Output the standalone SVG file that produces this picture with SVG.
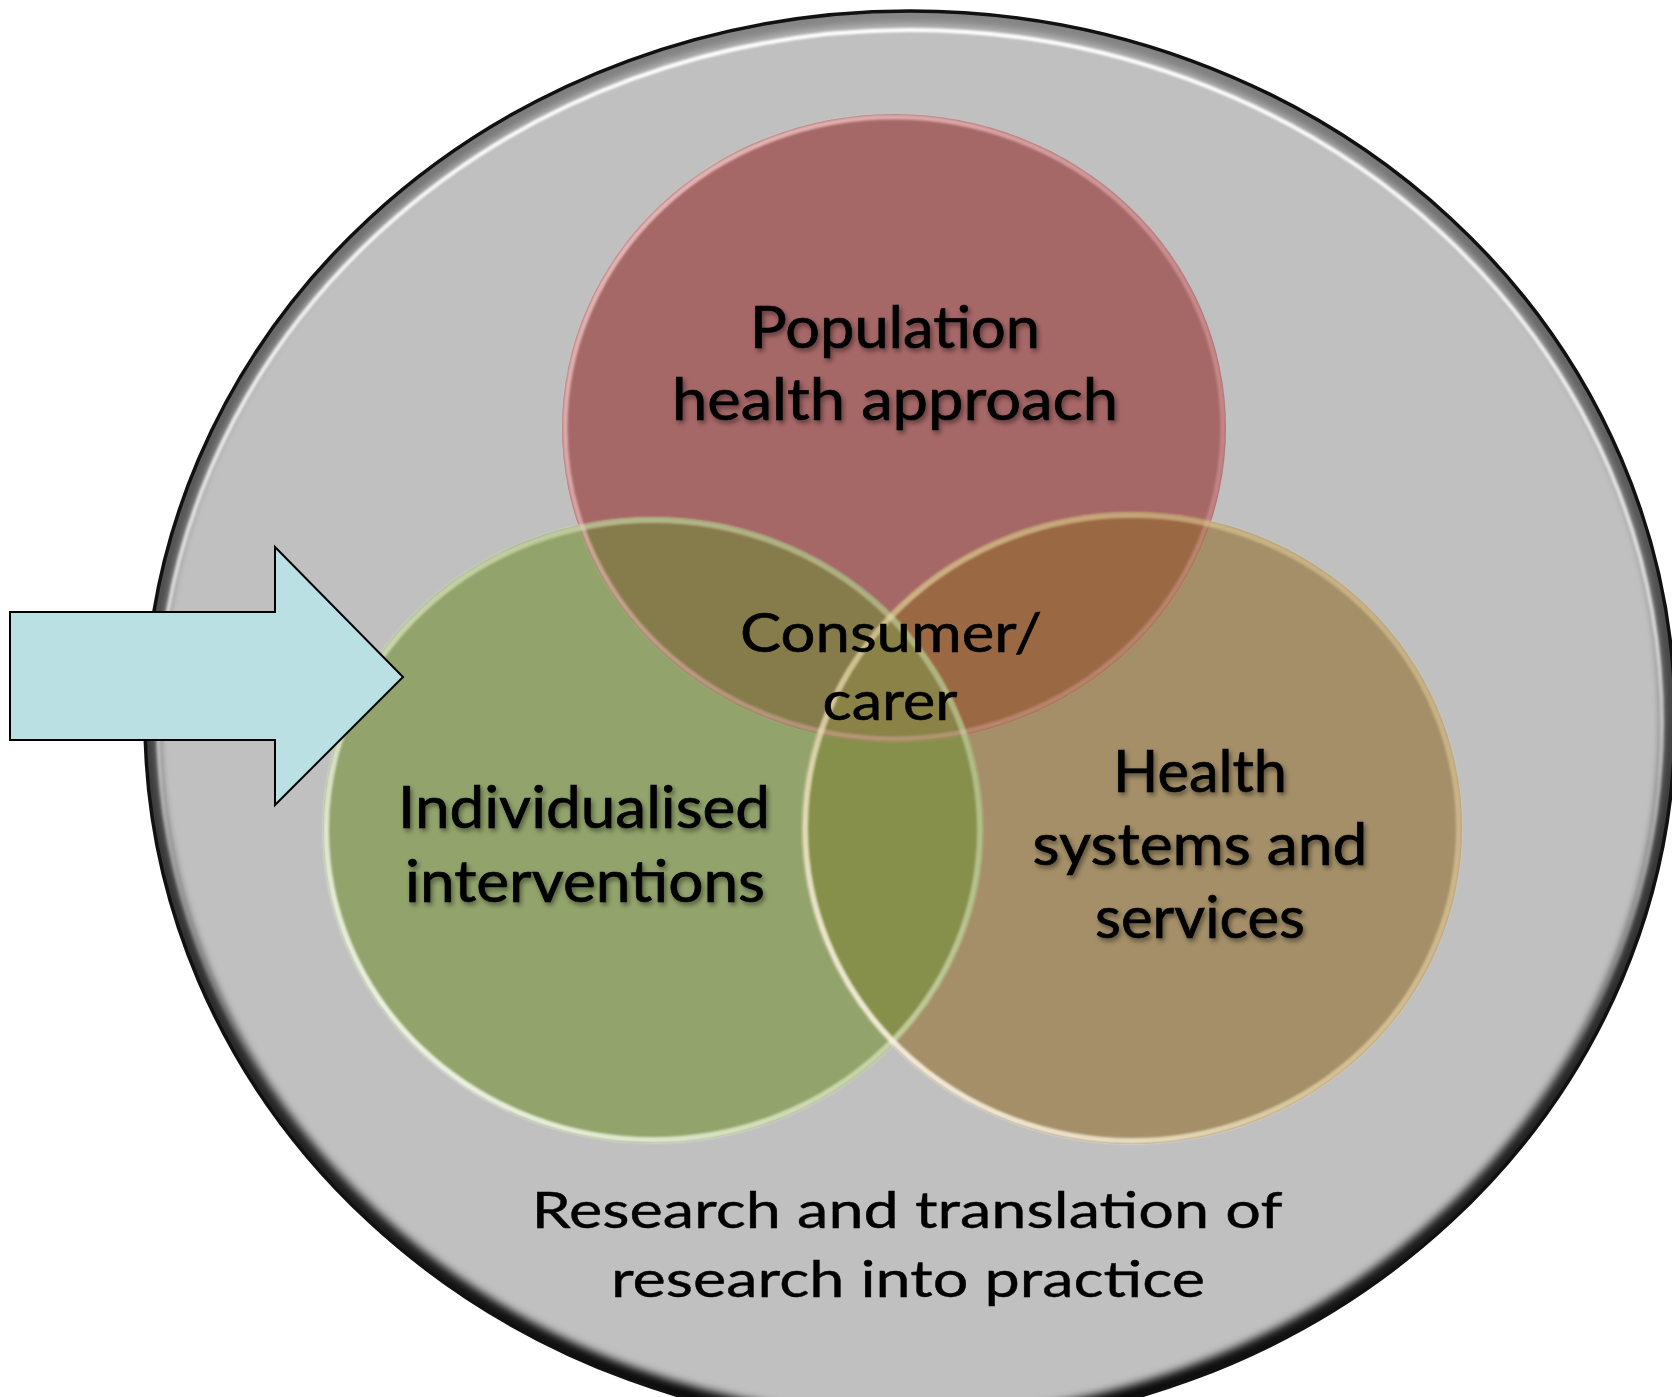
<svg xmlns="http://www.w3.org/2000/svg" width="1672" height="1397" viewBox="0 0 1672 1397">
  <style>
    .lbl { font-family: "Lato", "Liberation Sans", sans-serif; fill: #000; text-anchor: middle; }
    .big { font-size: 58px; stroke: #000; stroke-width: 0.7px; }
    .mid { font-size: 55px; stroke: #000; stroke-width: 0.6px; }
    .base { font-size: 51px; stroke: #000; stroke-width: 0.4px; }
  </style>
  <defs>
    <!-- outer disc geometry -->
    <ellipse id="disc" cx="910" cy="720" rx="765" ry="709"/>
    <ellipse id="eR" cx="894" cy="428" rx="332" ry="314"/>
    <ellipse id="eG" cx="653" cy="830" rx="330" ry="313"/>
    <ellipse id="eT" cx="1132" cy="828" rx="330" ry="316"/>

    <clipPath id="clipDisc"><use href="#disc"/></clipPath>
    <clipPath id="clipR"><use href="#eR"/></clipPath>
    <clipPath id="clipG"><use href="#eG"/></clipPath>
    <clipPath id="clipT"><use href="#eT"/></clipPath>

    <filter id="soft" x="-10%" y="-10%" width="120%" height="120%">
      <feGaussianBlur stdDeviation="4"/>
    </filter>
    <filter id="soft1" x="-10%" y="-10%" width="120%" height="120%">
      <feGaussianBlur stdDeviation="1.3"/>
    </filter>
    <filter id="txtShadow" x="-10%" y="-30%" width="120%" height="160%">
      <feGaussianBlur in="SourceAlpha" stdDeviation="2.5"/>
      <feOffset dx="2" dy="3" result="b"/>
      <feComponentTransfer><feFuncA type="linear" slope="0.45"/></feComponentTransfer>
      <feMerge><feMergeNode/><feMergeNode in="SourceGraphic"/></feMerge>
    </filter>

    <!-- bevel shading for the outer disc -->
    <linearGradient id="discShade" x1="0" y1="0" x2="0" y2="1">
      <stop offset="0" stop-color="#000" stop-opacity="0.3"/>
      <stop offset="0.5" stop-color="#000" stop-opacity="0.65"/>
      <stop offset="1" stop-color="#000" stop-opacity="0.95"/>
    </linearGradient>
    <linearGradient id="discHi" x1="0" y1="0" x2="0" y2="1">
      <stop offset="0" stop-color="#fff" stop-opacity="1"/>
      <stop offset="0.45" stop-color="#fff" stop-opacity="0.6"/>
      <stop offset="0.75" stop-color="#fff" stop-opacity="0"/>
    </linearGradient>

    <!-- rim highlights of the three circles -->
    <linearGradient id="rimR" x1="0" y1="0" x2="1" y2="1">
      <stop offset="0" stop-color="#f6d0d0" stop-opacity="0.9"/>
      <stop offset="0.6" stop-color="#e8b0b0" stop-opacity="0.5"/>
      <stop offset="1" stop-color="#e8b0b0" stop-opacity="0.3"/>
    </linearGradient>
    <linearGradient id="rimG" x1="0" y1="1" x2="1" y2="0">
      <stop offset="0" stop-color="#ffffff" stop-opacity="1"/>
      <stop offset="0.45" stop-color="#dfe8c4" stop-opacity="0.7"/>
      <stop offset="1" stop-color="#d0dcb0" stop-opacity="0.45"/>
    </linearGradient>
    <linearGradient id="rimT" x1="0" y1="1" x2="1" y2="0">
      <stop offset="0" stop-color="#ffffff" stop-opacity="1"/>
      <stop offset="0.45" stop-color="#efdcae" stop-opacity="0.65"/>
      <stop offset="1" stop-color="#e6cf9c" stop-opacity="0.45"/>
    </linearGradient>
  </defs>

  <rect width="1672" height="1397" fill="#fff"/>

  <!-- outer disc: research and translation -->
  <g id="research-disc">
    <use href="#disc" fill="#c0c0c0"/>
    <g clip-path="url(#clipDisc)">
      <use href="#disc" fill="none" stroke="url(#discShade)" stroke-width="26" filter="url(#soft)"/>
      <ellipse cx="910" cy="724" rx="752" ry="694" fill="none" stroke="url(#discHi)" stroke-width="4" filter="url(#soft1)"/>
    </g>
    <use href="#disc" fill="none" stroke="#111" stroke-width="3.5"/>
    <text class="lbl base" x="907" y="1228" textLength="751" lengthAdjust="spacingAndGlyphs">Research and translation of</text>
    <text class="lbl base" x="908" y="1297" textLength="594" lengthAdjust="spacingAndGlyphs">research into practice</text>
  </g>

  <!-- three overlapping circles -->
  <g id="circle-population">
    <use href="#eR" fill="#a66767"/>
  </g>
  <g id="circle-individualised">
    <use href="#eG" fill="#92a46c"/>
  </g>
  <g id="circle-health-systems">
    <use href="#eT" fill="#a48f68"/>
  </g>

  <!-- overlap regions -->
  <g id="overlaps">
    <g clip-path="url(#clipR)">
      <use href="#eG" fill="#867b4b"/>
      <use href="#eT" fill="#9a6944"/>
    </g>
    <g clip-path="url(#clipG)">
      <rect x="700" y="700" width="400" height="500" fill="#87904b" clip-path="url(#clipT)"/>
    </g>
    <g clip-path="url(#clipR)">
      <g clip-path="url(#clipG)"><use href="#eT" fill="#8a8247"/></g>
    </g>
  </g>

  <!-- rim highlights -->
  <g id="rims" fill="none">
    <ellipse cx="894" cy="428" rx="329" ry="311" stroke="url(#rimR)" stroke-width="5" filter="url(#soft1)"/>
    <ellipse cx="653" cy="830" rx="327" ry="310" stroke="url(#rimG)" stroke-width="6" filter="url(#soft1)"/>
    <ellipse cx="1132" cy="828" rx="327" ry="313" stroke="url(#rimT)" stroke-width="6" filter="url(#soft1)"/>
  </g>

  <!-- circle labels -->
  <g id="labels" filter="url(#txtShadow)">
    <text class="lbl big" x="895" y="348" textLength="290" lengthAdjust="spacingAndGlyphs">Population</text>
    <text class="lbl big" x="895" y="420" textLength="446" lengthAdjust="spacingAndGlyphs">health approach</text>
    <text class="lbl big" x="584" y="828" textLength="372" lengthAdjust="spacingAndGlyphs">Individualised</text>
    <text class="lbl big" x="585" y="902" textLength="360" lengthAdjust="spacingAndGlyphs">interventions</text>
    <text class="lbl big" x="1200" y="792" textLength="174" lengthAdjust="spacingAndGlyphs">Health</text>
    <text class="lbl big" x="1200" y="865" textLength="335" lengthAdjust="spacingAndGlyphs">systems and</text>
    <text class="lbl big" x="1200" y="938" textLength="210" lengthAdjust="spacingAndGlyphs">services</text>
  </g>
  <g id="centre-label">
    <text class="lbl mid" x="891" y="652" textLength="302" lengthAdjust="spacingAndGlyphs">Consumer/</text>
    <text class="lbl mid" x="890" y="720" textLength="135" lengthAdjust="spacingAndGlyphs">carer</text>
  </g>

  <!-- block arrow pointing into the individualised circle -->
  <g id="connectors">
    <polygon points="10,612 275,612 275,547 403,677 275,805 275,740 10,740" fill="#bbe0e3" stroke="#000" stroke-width="2" stroke-linejoin="miter"/>
  </g>
</svg>
